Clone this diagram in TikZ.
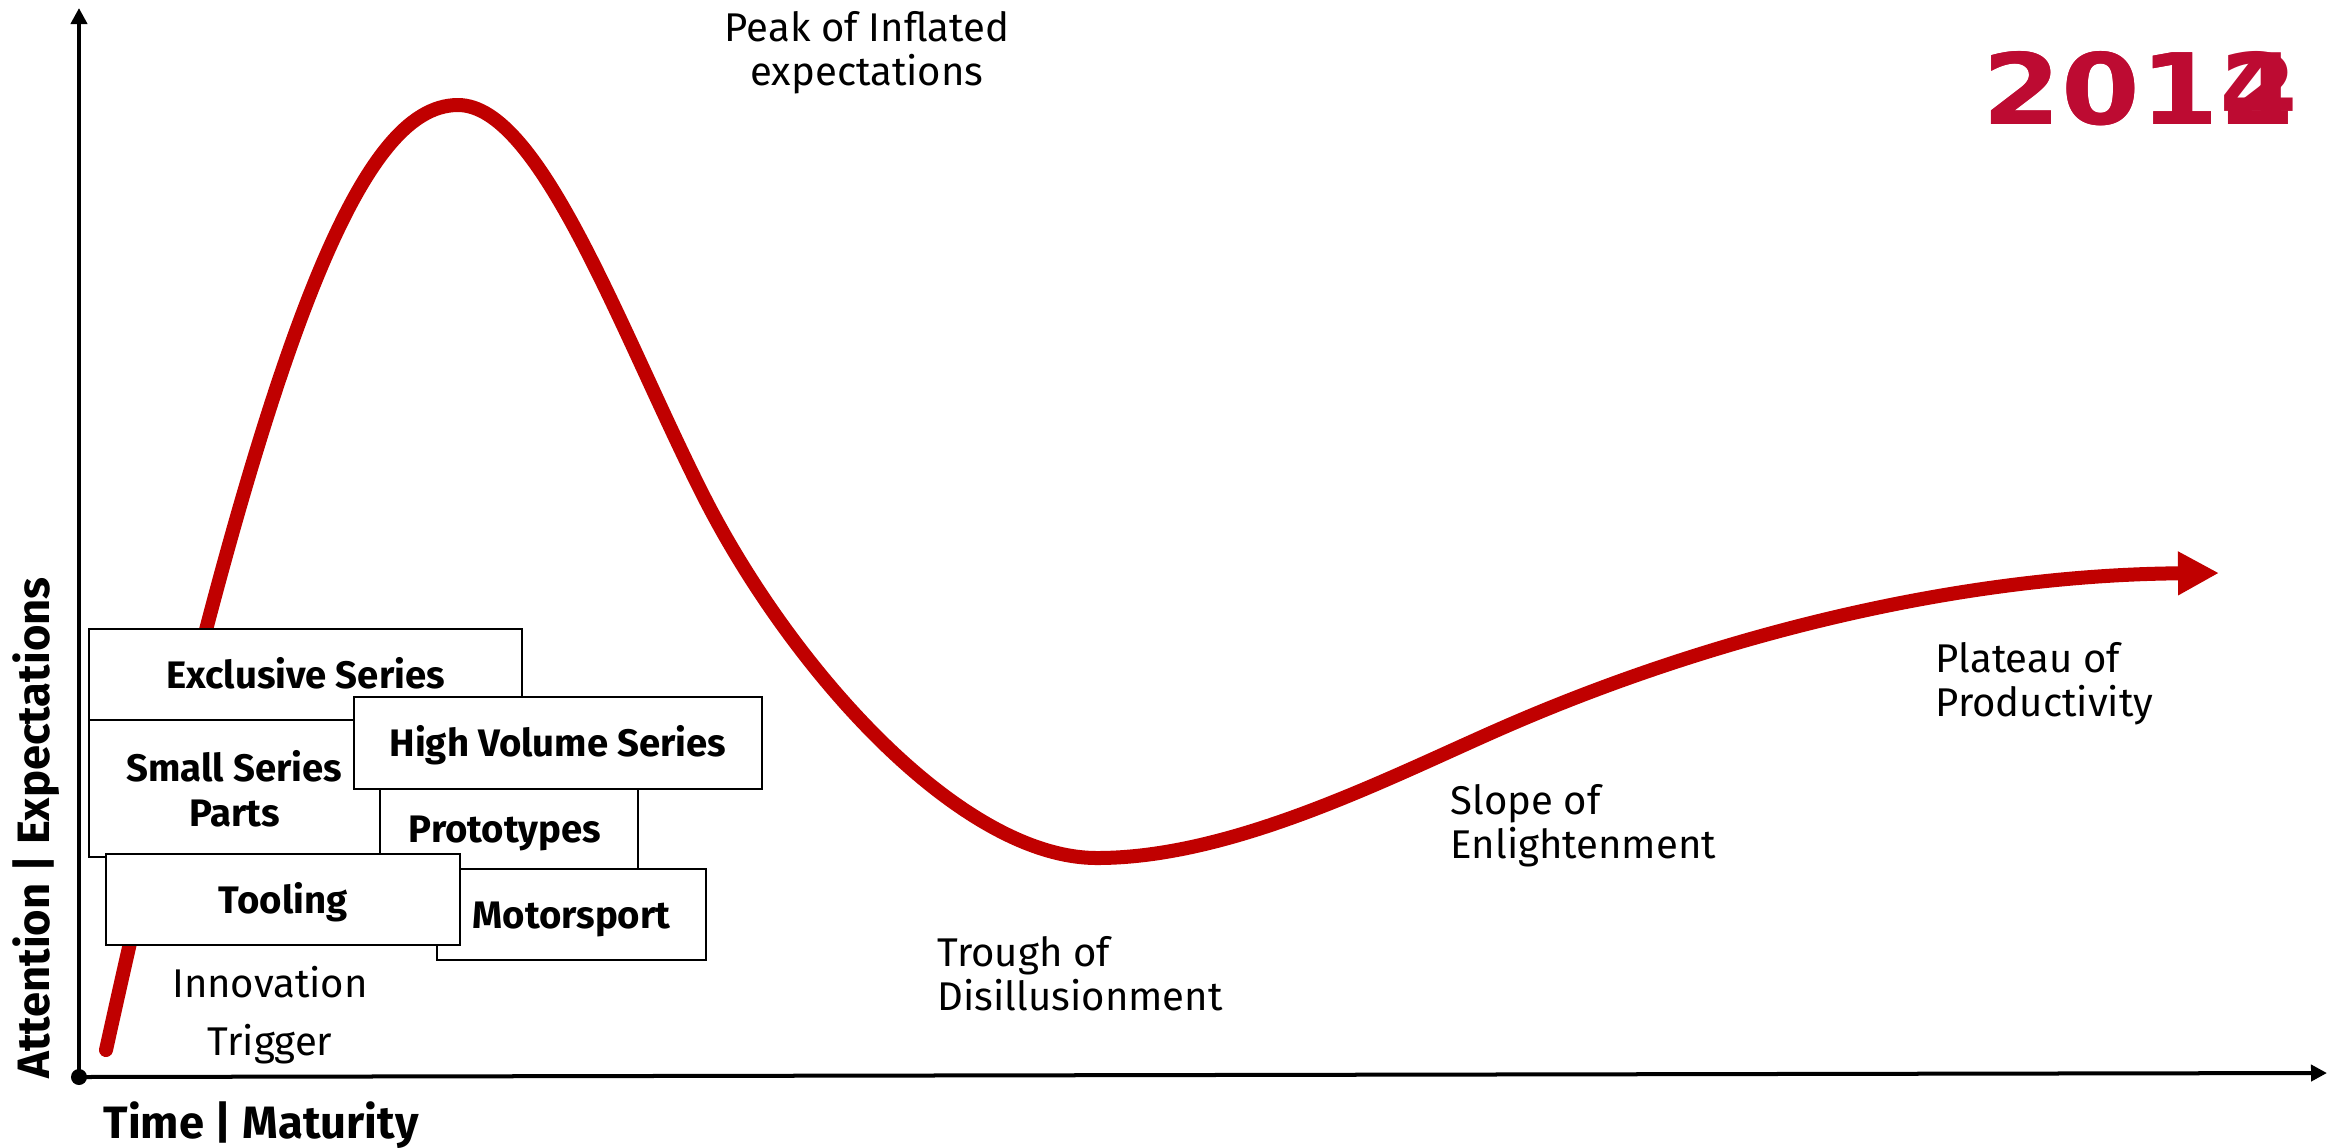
\documentclass[tikz,border=0pt]{standalone}
\usepackage{fontspec}
\setmainfont{Fira Sans}
\newfontfamily\yearfont{DejaVu Sans}[FakeStretch=1.15]
\usepackage{xcolor}
\usetikzlibrary{arrows.meta}
\definecolor{curvered}{RGB}{192,0,0}
\definecolor{yearred}{RGB}{189,11,50}

\begin{document}
\begin{tikzpicture}[
    x=0.01cm, y=-0.01cm,
    box/.style 2 args={rectangle, draw, fill=white, line width=0.7pt, inner sep=0pt,
        minimum width=#1, minimum height=#2, align=center, text height=0.27cm, text depth=0cm,
        font=\bfseries\fontsize{10.9}{12.8}\selectfont},
    phase/.style={inner sep=0pt, align=left, font=\fontsize{11.4}{12.5}\selectfont},
    axislabel/.style={inner sep=0pt, font=\bfseries\fontsize{12.9}{14}\selectfont},
    yearlabel/.style={inner sep=0pt, text=yearred, font=\yearfont\bfseries\fontsize{28}{30}\selectfont},
    axis/.style={line width=0.04cm, -{Triangle[length=0.16cm,width=0.16cm]}}
]
    \useasboundingbox (0,0) rectangle (2341,1147);

    % Axes
    \coordinate (origin) at (79,1077);
    \coordinate (ytip) at (79,8);
    \coordinate (xtip) at (2327,1073);
    \draw[axis] (origin) -- (ytip);
    \draw[axis] (origin) -- (xtip);
    \fill (origin) circle[radius=0.08cm];

    % Hype curve
    \coordinate (start) at (106,1050);
    \coordinate (peak) at (458,105);
    \coordinate (fall) at (702,493);
    \coordinate (trough) at (1097,858);
    \coordinate (rise) at (1493,732);
    \coordinate (plateau) at (2219,573);
    \draw[line width=0.14cm, curvered, line cap=round, -{Triangle[length=0.41cm,width=0.41cm]}]
        (start) .. controls (265,330) and (360,105) .. (peak)
        .. controls (540,105) and (620,330) .. (fall)
        .. controls (790,668) and (960,858) .. (trough)
        .. controls (1230,858) and (1380,782) .. (rise)
        .. controls (1700,640) and (1950,575) .. (plateau);

    % Application boxes
    \node[box={2.69cm}{0.91cm}] (motor) at (571.5,914.5) {Motorsport};
    \node[box={2.66cm}{0.80cm}] (proto) at (505,829) {Prototypes};
    \node[box={4.33cm}{0.91cm}] (exclusive) at (305.5,674.5) {Exclusive Series};
    \node[box={2.91cm}{1.37cm}, text height=, text depth=] (small) at (234.5,788.5) {Small Series\\Parts};
    \node[box={4.08cm}{0.92cm}] (highvol) at (558,743) {High Volume Series};
    \node[box={3.54cm}{0.91cm}] (tooling) at (283,899.5) {Tooling};

    % Phases (base = last line)
    \node[phase, anchor=base, align=center] (peaklabel) at (867,85) {Peak of Inflated\\expectations};
    \node[phase, anchor=base, align=center] (triggerlabel) at (270,1055) {Innovation\\[0.14cm]Trigger};
    \node[phase, anchor=base west] (troughlabel) at (937,1010) {Trough of\\Disillusionment};
    \node[phase, anchor=base west] (slopelabel) at (1450,858) {Slope of\\Enlightenment};
    \node[phase, anchor=base west] (plateaulabel) at (1935,716) {Plateau of\\Productivity};

    % Axis labels
    \node[axislabel, anchor=base] (timelabel) at (261,1138) {Time | Maturity};
    \node[axislabel, anchor=base, rotate=90] (attentionlabel) at (50,828) {Attention | Expectations};

    % Year
    \node[yearlabel, anchor=base west] (yearold) at (1982,124) {2012};
    \node[yearlabel, anchor=base west] (yearnew) at (1982,124) {2014};
\end{tikzpicture}
\end{document}
